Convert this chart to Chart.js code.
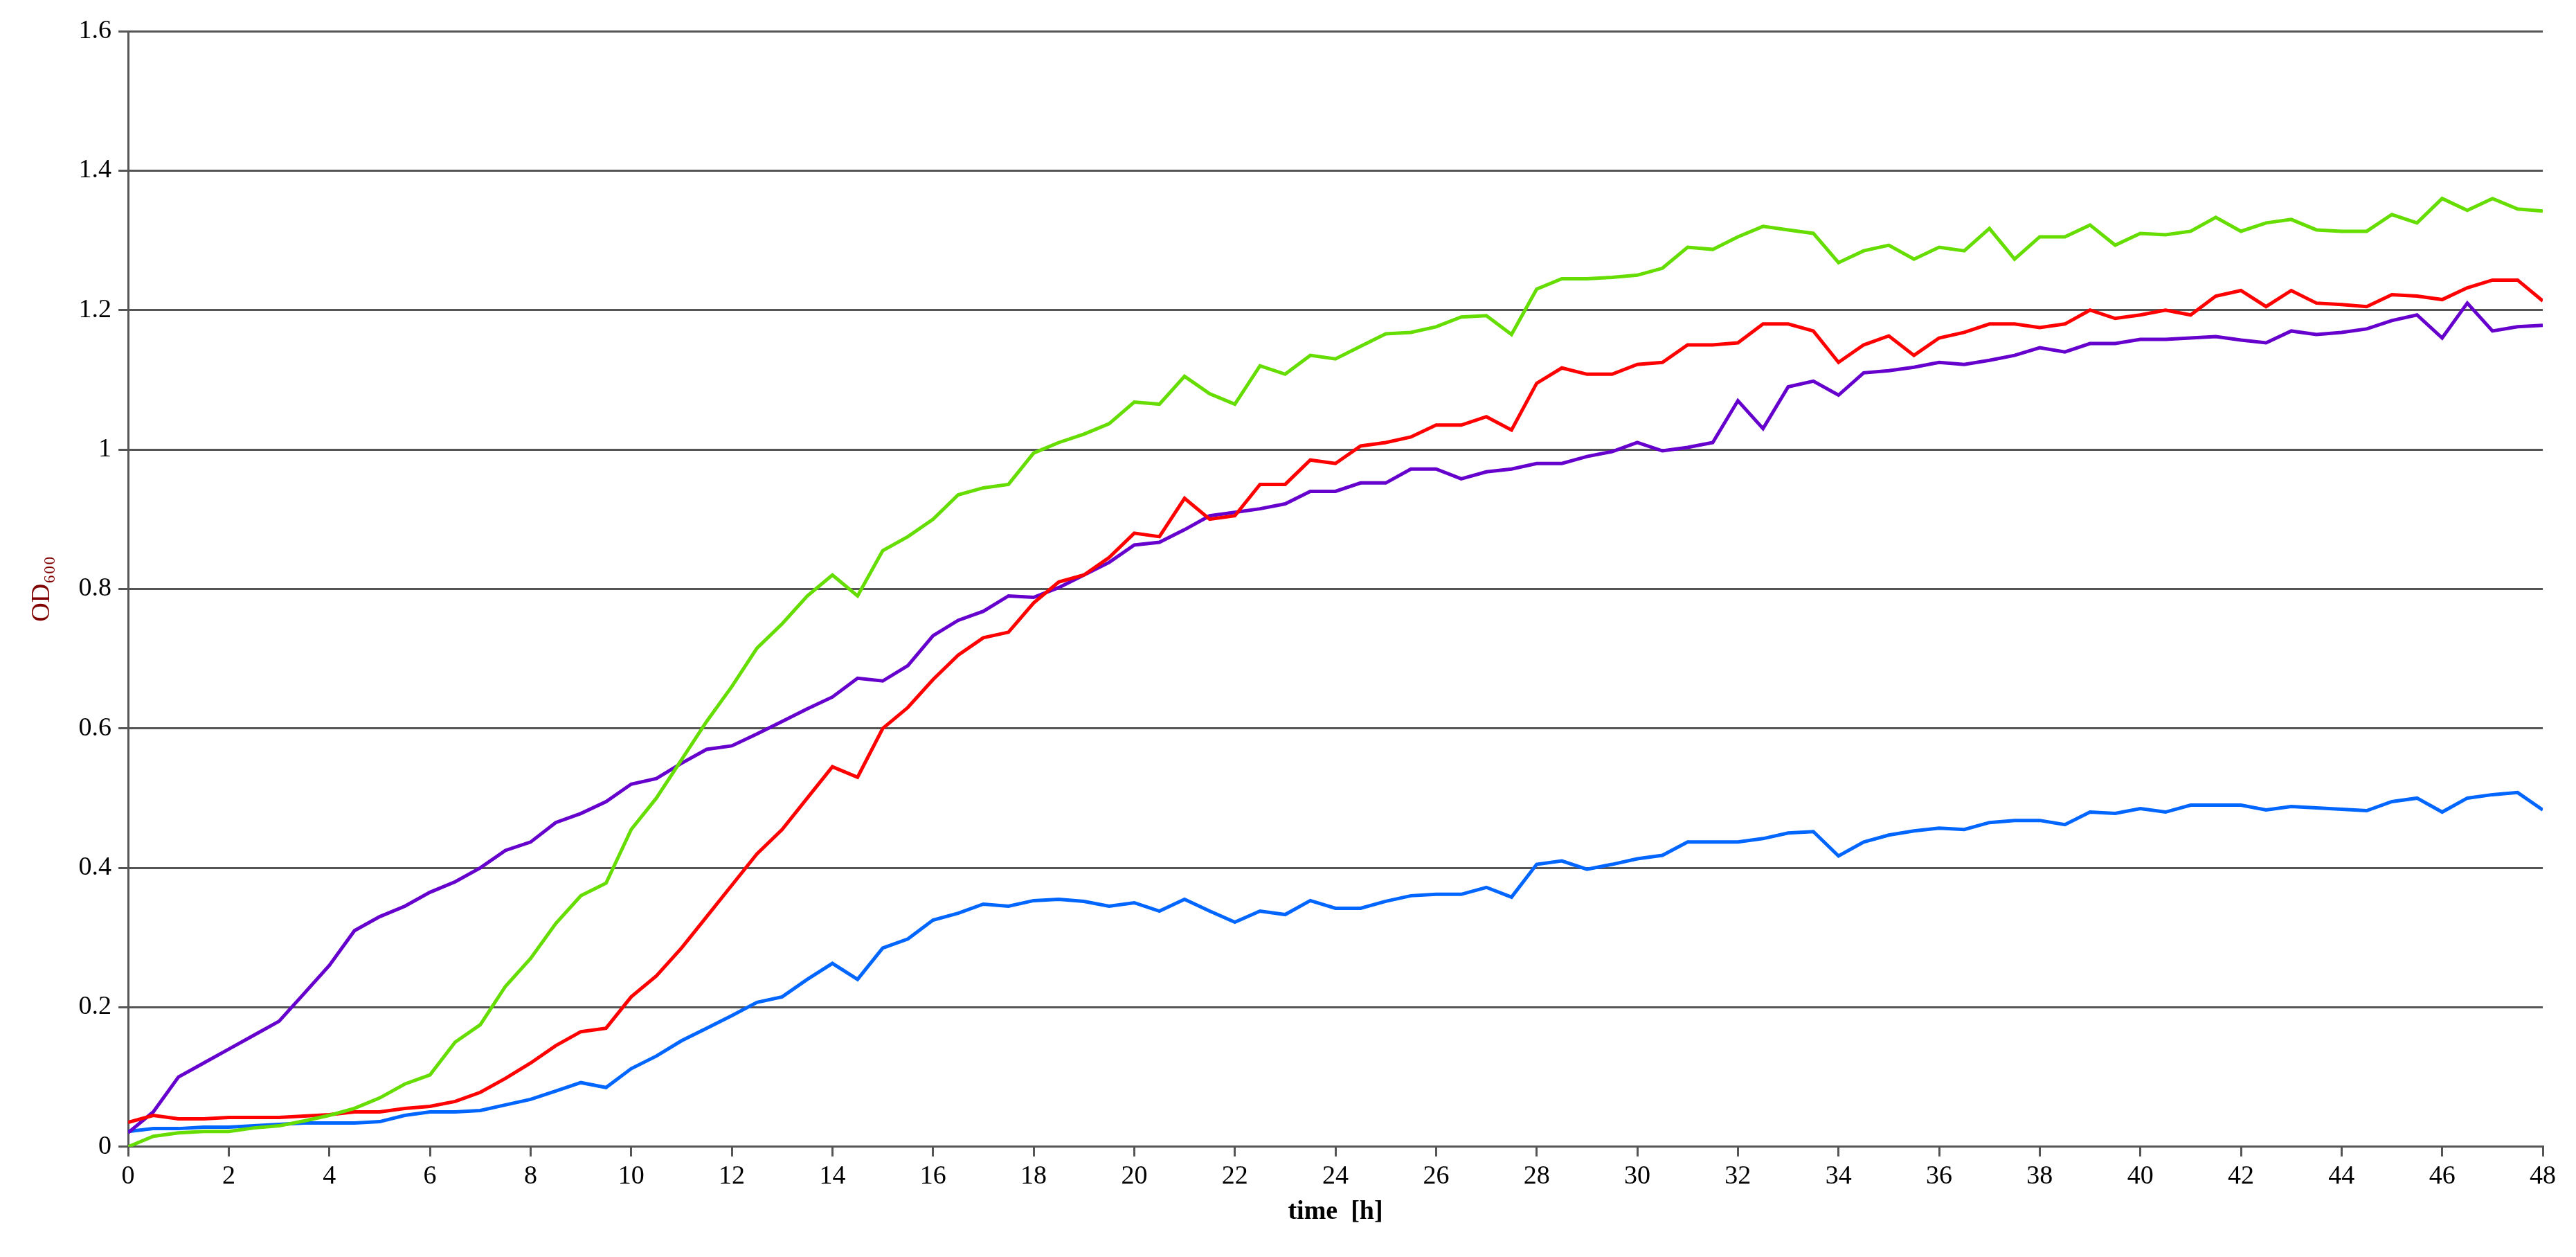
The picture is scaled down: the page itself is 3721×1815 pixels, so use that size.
<!DOCTYPE html>
<html><head><meta charset="utf-8">
<script src="https://cdn.jsdelivr.net/npm/chart.js@4/dist/chart.umd.min.js"></script>
<style>html,body{margin:0;padding:0;background:#fff}#w{width:3721px;height:1815px}</style>
</head><body><div id="w"><canvas id="c"></canvas></div>
<script>
const times = [0,0.5,1,1.5,2,2.5,3,3.5,4,4.5,5,5.5,6,6.5,7,7.5,8,8.5,9,9.5,10,10.5,11,11.5,12,12.5,13,13.5,14,14.5,15,15.5,16,16.5,17,17.5,18,18.5,19,19.5,20,20.5,21,21.5,22,22.5,23,23.5,24,24.5,25,25.5,26,26.5,27,27.5,28,28.5,29,29.5,30,30.5,31,31.5,32,32.5,33,33.5,34,34.5,35,35.5,36,36.5,37,37.5,38,38.5,39,39.5,40,40.5,41,41.5,42,42.5,43,43.5,44,44.5,45,45.5,46,46.5,47,47.5,48];
const green = [0.0,0.015,0.02,0.022,0.022,0.027,0.03,0.037,0.045,0.055,0.07,0.09,0.103,0.15,0.175,0.23,0.27,0.32,0.36,0.378,0.455,0.5,0.555,0.61,0.66,0.715,0.75,0.79,0.82,0.79,0.855,0.875,0.9,0.935,0.945,0.95,0.995,1.01,1.022,1.037,1.068,1.065,1.105,1.08,1.065,1.12,1.108,1.135,1.13,1.148,1.166,1.168,1.176,1.19,1.192,1.165,1.23,1.245,1.245,1.247,1.25,1.26,1.29,1.287,1.305,1.32,1.315,1.31,1.268,1.285,1.293,1.273,1.29,1.285,1.317,1.273,1.305,1.305,1.322,1.293,1.31,1.308,1.313,1.333,1.313,1.325,1.33,1.315,1.313,1.313,1.337,1.325,1.36,1.343,1.36,1.345,1.342];
const red = [0.035,0.045,0.04,0.04,0.042,0.042,0.042,0.044,0.046,0.05,0.05,0.055,0.058,0.065,0.078,0.098,0.12,0.145,0.165,0.17,0.215,0.245,0.285,0.33,0.375,0.42,0.455,0.5,0.545,0.53,0.6,0.63,0.67,0.705,0.73,0.738,0.78,0.81,0.82,0.845,0.88,0.875,0.93,0.9,0.905,0.95,0.95,0.985,0.98,1.005,1.01,1.018,1.035,1.035,1.047,1.028,1.095,1.117,1.108,1.108,1.122,1.125,1.15,1.15,1.153,1.18,1.18,1.17,1.125,1.15,1.163,1.135,1.16,1.168,1.18,1.18,1.175,1.18,1.2,1.188,1.193,1.2,1.193,1.22,1.228,1.205,1.228,1.21,1.208,1.205,1.222,1.22,1.215,1.232,1.243,1.243,1.213];
const purple = [0.02,0.05,0.1,0.12,0.14,0.16,0.18,0.22,0.26,0.31,0.33,0.345,0.365,0.38,0.4,0.425,0.437,0.465,0.478,0.495,0.52,0.528,0.55,0.57,0.575,0.592,0.61,0.628,0.645,0.672,0.668,0.69,0.733,0.755,0.768,0.79,0.788,0.802,0.82,0.838,0.863,0.867,0.885,0.905,0.91,0.915,0.922,0.94,0.94,0.952,0.952,0.972,0.972,0.958,0.968,0.972,0.98,0.98,0.99,0.997,1.01,0.998,1.003,1.01,1.07,1.03,1.09,1.098,1.078,1.11,1.113,1.118,1.125,1.122,1.128,1.135,1.146,1.14,1.152,1.152,1.158,1.158,1.16,1.162,1.157,1.153,1.17,1.165,1.168,1.173,1.185,1.193,1.16,1.21,1.17,1.176,1.178];
const blue = [0.022,0.026,0.026,0.028,0.028,0.03,0.032,0.034,0.034,0.034,0.036,0.045,0.05,0.05,0.052,0.06,0.068,0.08,0.092,0.085,0.112,0.13,0.152,0.17,0.188,0.207,0.215,0.24,0.263,0.24,0.285,0.298,0.325,0.335,0.348,0.345,0.353,0.355,0.352,0.345,0.35,0.338,0.355,0.338,0.322,0.338,0.333,0.353,0.342,0.342,0.352,0.36,0.362,0.362,0.372,0.358,0.405,0.41,0.398,0.405,0.413,0.418,0.437,0.437,0.437,0.442,0.45,0.452,0.417,0.437,0.447,0.453,0.457,0.455,0.465,0.468,0.468,0.462,0.48,0.478,0.485,0.48,0.49,0.49,0.49,0.483,0.488,0.486,0.484,0.482,0.495,0.5,0.48,0.5,0.505,0.508,0.483];
const seriesNames = ['green','red','purple','blue'];
const seriesColors = ['#66dd00','#ff0000','#6600cc','#0066ff'];
const seriesValues = [green, red, purple, blue];
const pts = v => v.map((y,i)=>({x:times[i],y}));
const font = {family:'"Liberation Serif", "DejaVu Serif", serif', size:38};
new Chart(document.getElementById('c'), {
  type:'line',
  data:{datasets: seriesValues.map((v,i)=>({label:seriesNames[i],data:pts(v),borderColor:seriesColors[i],borderWidth:5,pointRadius:0,tension:0,fill:false}))},
  options:{
    responsive:true, maintainAspectRatio:false, animation:false,
    layout:{padding:{top:45,right:48,left:34,bottom:34}},
    plugins:{legend:{display:false},tooltip:{enabled:false}},
    scales:{
      x:{type:'linear',min:0,max:48,
        ticks:{stepSize:2,color:'#000',font,padding:6},
        grid:{display:true,drawOnChartArea:false,drawTicks:true,tickLength:14,color:'#555',lineWidth:3},
        border:{color:'#555',width:3},
        title:{display:true,text:'time  [h]',color:'#000',font:{...font,weight:'bold'},padding:{top:0,bottom:8}}},
      y:{min:0,max:1.6,
        ticks:{stepSize:0.2,color:'#000',font,padding:10,callback:v=>String(Math.round(v*10)/10)},
        grid:{color:'#555',lineWidth:3,tickLength:14},
        border:{color:'#555',width:3},
        title:{display:true,text:'OD₆₀₀',color:'#800000',font,padding:{bottom:20}}}
    }
  }
});
</script></body></html>
